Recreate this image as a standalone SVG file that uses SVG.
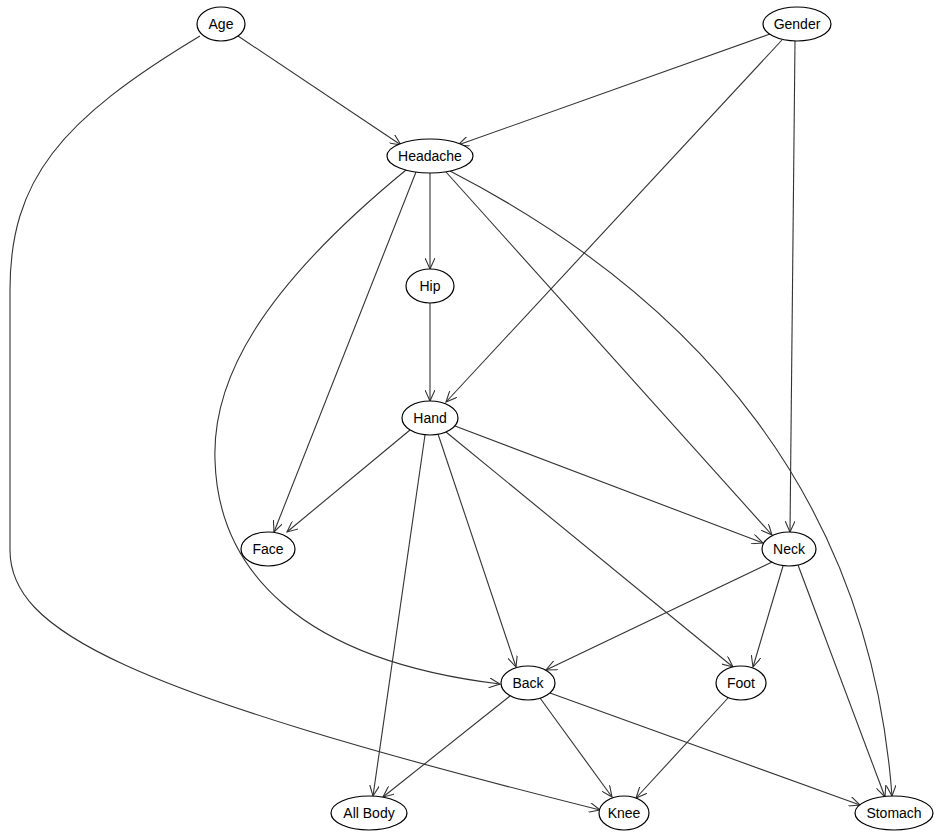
<svg xmlns="http://www.w3.org/2000/svg" width="942" height="835" viewBox="0 0 942 835">
<style>
.n ellipse{fill:#fff;stroke:#000;stroke-width:1.2}
.n text{font-family:"Liberation Sans",Arial,sans-serif;font-size:14px;text-anchor:middle;dominant-baseline:central}
#edges path{fill:none;stroke:#333;stroke-width:1.1;marker-end:url(#a)}
</style>
<defs><marker id="a" viewBox="0 0 12 10" refX="11" refY="5" markerWidth="12" markerHeight="10" markerUnits="userSpaceOnUse" orient="auto"><path d="M0,0 L11,5 L0,10" fill="none" stroke="#333" stroke-width="1.1"/></marker></defs>
<rect width="942" height="835" fill="#fff"/>
<g id="edges">
<path d="M238,36 L401,145"/>
<path d="M200,36 C60,120 10,180 10,290 L10,550 C10,630 120,690 600,810"/>
<path d="M770,34 L458,145"/>
<path d="M782,40 L446,402"/>
<path d="M795,41 L790,532"/>
<path d="M430,173 L430,269"/>
<path d="M416,172 L274,532"/>
<path d="M406,170 C260,290 212,380 215,460 C218,570 300,660 500,684"/>
<path d="M446,172 L772,535"/>
<path d="M450,171 C700,300 870,500 892,796"/>
<path d="M430,303 L430,401"/>
<path d="M410,430 L287,532"/>
<path d="M455,426 L763,543"/>
<path d="M425,435 L373,796"/>
<path d="M438,434 L516,667"/>
<path d="M446,432 L733,667"/>
<path d="M772,562 L546,670"/>
<path d="M783,566 L753,667"/>
<path d="M798,565 L885,797"/>
<path d="M510,696 L383,797"/>
<path d="M540,698 L612,797"/>
<path d="M550,693 L860,805"/>
<path d="M728,698 L636,798"/>
</g>
<g id="age" class="n"><ellipse cx="221" cy="24" rx="24" ry="17"/><text x="221" y="24">Age</text></g>
<g id="gender" class="n"><ellipse cx="797" cy="24" rx="34" ry="17"/><text x="797" y="24">Gender</text></g>
<g id="headache" class="n"><ellipse cx="430" cy="156" rx="43" ry="17"/><text x="430" y="156">Headache</text></g>
<g id="hip" class="n"><ellipse cx="430" cy="286" rx="24" ry="17"/><text x="430" y="286">Hip</text></g>
<g id="hand" class="n"><ellipse cx="430" cy="418" rx="28" ry="17"/><text x="430" y="418">Hand</text></g>
<g id="face" class="n"><ellipse cx="268" cy="549" rx="27" ry="17"/><text x="268" y="549">Face</text></g>
<g id="neck" class="n"><ellipse cx="789" cy="549" rx="27" ry="17"/><text x="789" y="549">Neck</text></g>
<g id="back" class="n"><ellipse cx="528" cy="683" rx="27" ry="17"/><text x="528" y="683">Back</text></g>
<g id="foot" class="n"><ellipse cx="741" cy="683" rx="25" ry="17"/><text x="741" y="683">Foot</text></g>
<g id="allbody" class="n"><ellipse cx="369" cy="813" rx="38" ry="17"/><text x="369" y="813">All Body</text></g>
<g id="knee" class="n"><ellipse cx="624" cy="813" rx="25" ry="17"/><text x="624" y="813">Knee</text></g>
<g id="stomach" class="n"><ellipse cx="894" cy="813" rx="39" ry="17"/><text x="894" y="813">Stomach</text></g>
</svg>
